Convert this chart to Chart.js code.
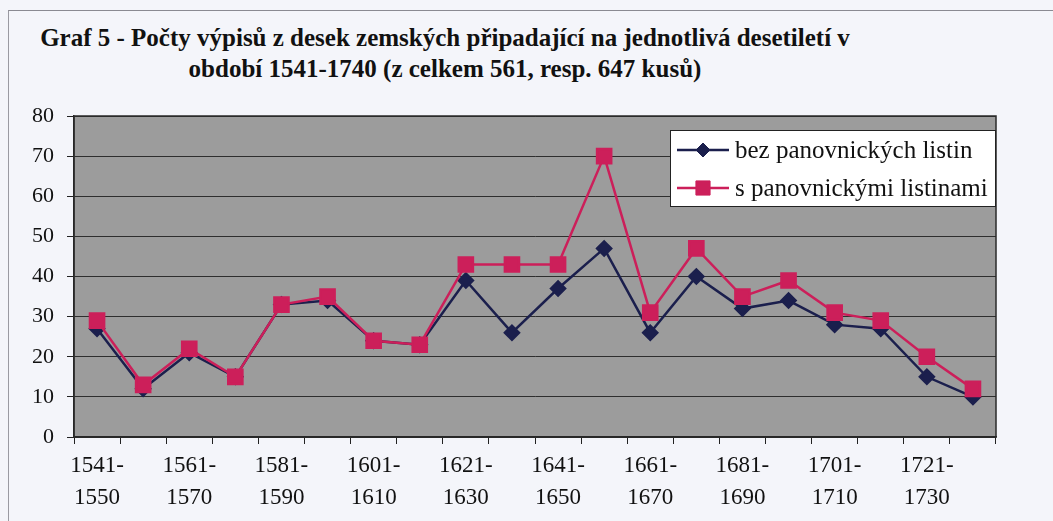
<!DOCTYPE html>
<html>
<head>
<meta charset="utf-8">
<script src="https://cdn.jsdelivr.net/npm/chart.js@4/dist/chart.umd.min.js"></script>
<style>
  html,body{margin:0;padding:0;background:#f4f5fa;}
  #wrap{position:relative;width:1053px;height:521px;overflow:hidden;}
  #frame{position:absolute;left:8px;top:10px;width:1100px;height:600px;border-left:1px solid #9a9aa2;border-top:1px solid #8a8a92;}
  #title{position:absolute;left:0;top:22px;width:890px;text-align:center;font-family:"Liberation Serif","Times New Roman",serif;font-weight:bold;font-size:25px;line-height:31px;color:#111;white-space:nowrap;}
  canvas{position:absolute;left:0;top:0;}
</style>
</head>
<body>
<div id="wrap">
  <div id="frame"></div>
  <div id="title">Graf 5 - Počty výpisů z desek zemských připadající na jednotlivá desetiletí v<br>období 1541-1740 (z celkem 561, resp. 647 kusů)</div>
  <canvas id="c" width="1053" height="521"></canvas>
</div>
<script>
const categories = ["1541-1550","1551-1560","1561-1570","1571-1580","1581-1590","1591-1600","1601-1610","1611-1620","1621-1630","1631-1640","1641-1650","1651-1660","1661-1670","1671-1680","1681-1690","1691-1700","1701-1710","1711-1720","1721-1730","1731-1740"];
const bezPanovnickych = [27,12,21,15,33,34,24,23,39,26,37,47,26,40,32,34,28,27,15,10];
const sPanovnickymi = [29,13,22,15,33,35,24,23,43,43,43,70,31,47,35,39,31,29,20,12];
const seriesNames = ["bez panovnických listin","s panovnickými listinami"];
const yTicks = [0,10,20,30,40,50,60,70,80];

const SERIF = '"Liberation Serif","Times New Roman",serif';

const bgPlugin = {
  id: 'plotBg',
  beforeDraw(chart){
    const {ctx, chartArea:a} = chart;
    ctx.save();
    ctx.fillStyle = '#9c9c9c';
    ctx.fillRect(a.left, a.top, a.right-a.left, a.bottom-a.top);
    ctx.restore();
  },
  afterDatasetsDraw(chart){
    const {ctx, chartArea:a} = chart;
    ctx.save();
    ctx.strokeStyle = '#2a2a2a';
    ctx.lineWidth = 1.5;
    ctx.strokeRect(a.left, a.top, a.right-a.left, a.bottom-a.top);
    ctx.restore();
  }
};

const legendPlugin = {
  id: 'boxLegend',
  afterDraw(chart){
    const {ctx, chartArea:a} = chart;
    const w = 325, h = 76;
    const x = a.right - w - 1, y = a.top + 14;
    ctx.save();
    ctx.fillStyle = '#ffffff';
    ctx.fillRect(x, y, w, h);
    ctx.strokeStyle = '#222';
    ctx.lineWidth = 1;
    ctx.strokeRect(x+0.5, y+0.5, w, h);
    ctx.font = '25px ' + SERIF;
    ctx.textBaseline = 'middle';
    chart.data.datasets.forEach((ds, i) => {
      const cy = y + 20 + i*38;
      ctx.strokeStyle = ds.borderColor;
      ctx.lineWidth = ds.borderWidth;
      ctx.beginPath();
      ctx.moveTo(x+7, cy);
      ctx.lineTo(x+59, cy);
      ctx.stroke();
      ctx.fillStyle = ds.pointBackgroundColor;
      ctx.strokeStyle = ds.pointBorderColor;
      ctx.lineWidth = 1;
      Chart.helpers.drawPoint(ctx, {pointStyle: ds.pointStyle, rotation: 0, borderWidth: 1, radius: ds.pointRadius}, x+33, cy);
      ctx.fillStyle = '#111';
      ctx.fillText(ds.label, x+65, cy+1);
    });
    ctx.restore();
  }
};

new Chart(document.getElementById('c'), {
  type: 'line',
  data: {
    labels: categories,
    datasets: [
      {
        label: seriesNames[0],
        data: bezPanovnickych,
        borderColor: '#1b1f4d',
        backgroundColor: '#1b1f4d',
        borderWidth: 2.5,
        pointStyle: 'rectRot',
        pointRadius: 7,
        pointBackgroundColor: '#1b1f4d',
        pointBorderColor: '#1b1f4d',
        tension: 0,
        order: 2
      },
      {
        label: seriesNames[1],
        data: sPanovnickymi,
        borderColor: '#cc1f5a',
        backgroundColor: '#cc1f5a',
        borderWidth: 2.5,
        pointStyle: 'rect',
        pointRadius: 10,
        pointBackgroundColor: '#cc1f5a',
        pointBorderColor: '#cc1f5a',
        tension: 0,
        order: 1
      }
    ]
  },
  options: {
    responsive: false,
    animation: false,
    devicePixelRatio: 1,
    layout: { padding: { left: 0, top: 116, right: 57, bottom: 0 } },
    plugins: {
      legend: { display: false },
      title: { display: false },
      tooltip: { enabled: false }
    },
    scales: {
      x: {
        type: 'category',
        offset: true,
        afterFit(scale){ scale.height = 84; },
        grid: {
          offset: true,
          drawOnChartArea: false,
          drawTicks: true,
          tickLength: 7,
          color: '#222',
          lineWidth: 1
        },
        border: { display: true, color: '#222', width: 1.5 },
        ticks: {
          autoSkip: false,
          maxRotation: 0,
          minRotation: 0,
          padding: 6,
          color: '#111',
          font: { family: SERIF, size: 23, lineHeight: 1.39 },
          callback(value, index){
            if (index % 2 !== 0) return '';
            const lbl = categories[index];
            const parts = lbl.split('-');
            return [parts[0] + '-', parts[1]];
          }
        }
      },
      y: {
        min: 0,
        max: 80,
        afterFit(scale){ scale.width = 74; },
        afterBuildTicks(scale){ scale.ticks = yTicks.map(v => ({value: v})); },
        grid: {
          color: '#2e2e2e',
          lineWidth: 1,
          drawTicks: true,
          tickLength: 7,
          tickColor: '#222'
        },
        border: { display: true, color: '#222', width: 1.5 },
        ticks: {
          padding: 13,
          color: '#111',
          font: { family: SERIF, size: 22 }
        }
      }
    }
  },
  plugins: [bgPlugin, legendPlugin]
});
</script>
</body>
</html>
